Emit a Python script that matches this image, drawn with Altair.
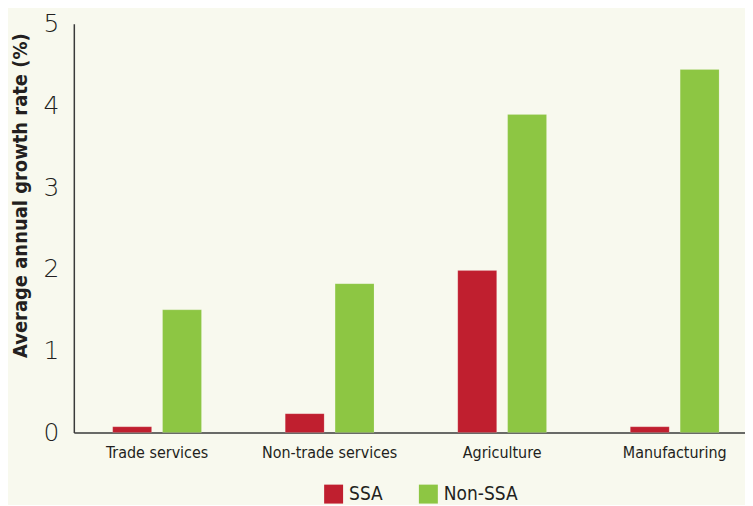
import altair as alt
import pandas as pd

categories = ["Trade services", "Non-trade services", "Agriculture", "Manufacturing"]
ssa = [0.07, 0.23, 1.98, 0.07]
non_ssa = [1.50, 1.82, 3.89, 4.44]
groups = ["SSA", "Non-SSA"]
colors = ["#c01f2f", "#8dc643"]
y_ticks = [0, 1, 2, 3, 4, 5]

rows = []
for c, a, b in zip(categories, ssa, non_ssa):
    rows.append({"sector": c, "group": "SSA", "value": a})
    rows.append({"sector": c, "group": "Non-SSA", "value": b})
df = pd.DataFrame(rows)

NARROW = "DejaVu Sans Condensed, sans-serif"
THIN = "DejaVu Sans, sans-serif"

chart = alt.Chart(df).mark_bar(stroke="#ffffff", strokeOpacity=0.25, strokeWidth=0.6).encode(
    x=alt.X("sector:N", sort=categories,
            scale=alt.Scale(paddingInner=0.4855, paddingOuter=0.1878, align=0.6),
            axis=alt.Axis(title=None, labelAngle=0, ticks=False, tickSize=0,
                          labelPadding=12, labelFont=NARROW, labelFontSize=16,
                          labelColor="#231f20", domainColor="#3a3a3a", domainWidth=1.5)),
    xOffset=alt.XOffset("group:N", sort=groups,
                        scale=alt.Scale(paddingInner=0.22, paddingOuter=0)),
    y=alt.Y("value:Q", scale=alt.Scale(domain=[0, 5], nice=False),
            axis=alt.Axis(values=y_ticks, format="d", grid=False, ticks=False, tickSize=0,
                          labelPadding=15, labelFont=THIN, labelFontSize=25,
                          labelFontWeight=200, labelColor="#231f20",
                          domainColor="#3a3a3a", domainWidth=1.5,
                          title="Average annual growth rate (%)", titleFont=NARROW,
                          titleFontSize=20, titleFontWeight="bold", titleColor="#231f20",
                          titleAngle=270, titleX=-53, titleY=172,
                          titleAlign="center", titleBaseline="middle")),
    color=alt.Color("group:N", sort=groups,
                    scale=alt.Scale(domain=groups, range=colors),
                    legend=alt.Legend(title=None, orient="none", direction="horizontal",
                                      legendX=251, legendY=462,
                                      symbolType="square", symbolSize=361,
                                      symbolStrokeWidth=0, labelFont=NARROW,
                                      labelFontSize=19, labelColor="#231f20",
                                      columnPadding=36, labelOffset=6)),
).properties(
    width=673, height=410,
    background="#f8f9ee",
    padding={"left": 2, "top": 3, "right": 0, "bottom": 0},
).configure_view(stroke=None)

chart.save("out.html", embed_options={"renderer": "svg", "actions": False})
